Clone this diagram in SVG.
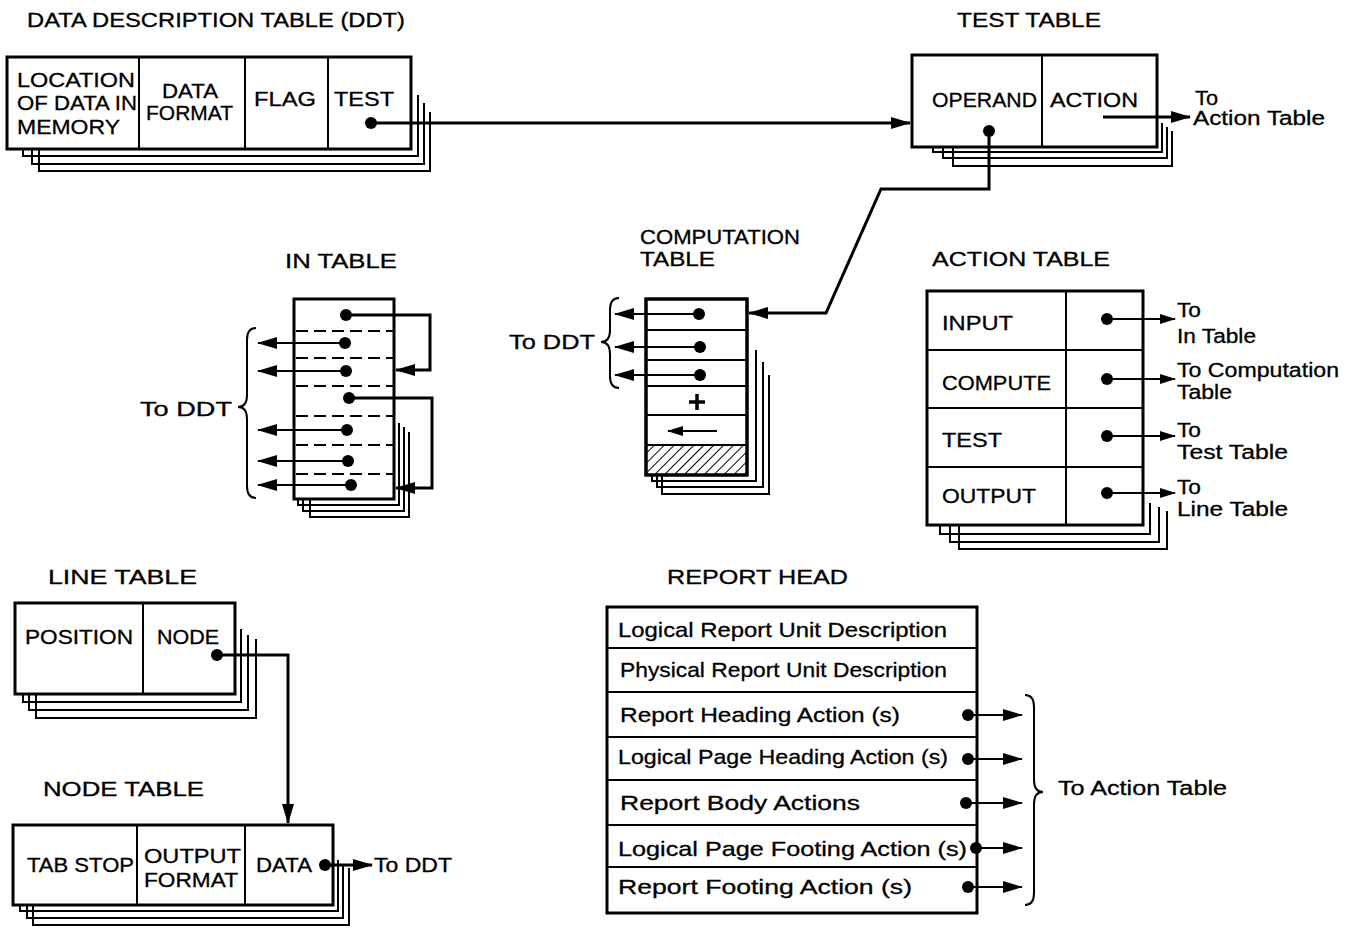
<svg xmlns="http://www.w3.org/2000/svg" width="1355" height="928" viewBox="0 0 1355 928">
<style>
text{font-family:"Liberation Sans",Arial,sans-serif;fill:#000;stroke:#000;stroke-width:0.3px;font-size:21px}
.t{font-size:20px}
.sm{font-size:20px}
.box{fill:#fff;stroke:#000;stroke-width:3}
.dv{stroke:#000;stroke-width:2;fill:none}
.sh{fill:none;stroke:#000;stroke-width:2}
.ln{fill:none;stroke:#000;stroke-width:3}
.ln2{fill:none;stroke:#000;stroke-width:2.2}
.dash{stroke:#000;stroke-width:2;stroke-dasharray:12 6}
.dot{fill:#000}
.br{fill:none;stroke:#000;stroke-width:2}
</style>
<defs>
<marker id="ah" markerUnits="userSpaceOnUse" markerWidth="20" markerHeight="12" refX="19" refY="6" orient="auto"><path d="M0,0 L20,6 L0,12 z" fill="#000"/></marker>
<marker id="ahs" markerUnits="userSpaceOnUse" markerWidth="16" markerHeight="10" refX="15" refY="5" orient="auto"><path d="M0,0 L16,5 L0,10 z" fill="#000"/></marker>
<pattern id="hatch" patternUnits="userSpaceOnUse" width="7" height="7" patternTransform="rotate(45)"><line x1="0" y1="0" x2="0" y2="7" stroke="#000" stroke-width="2"/></pattern>
</defs>

<!-- DDT -->
<g id="ddt">
<text class="t" x="27" y="27" textLength="378" lengthAdjust="spacingAndGlyphs">DATA DESCRIPTION TABLE (DDT)</text>
<polyline class="sh" points="430,112 430,171 39,171 39,149"/>
<polyline class="sh" points="424,103 424,164 32,164 32,149"/>
<polyline class="sh" points="418,95 418,156 23,156 23,149"/>
<rect class="box" x="7" y="57" width="404" height="92"/>
<line class="dv" x1="139" y1="57" x2="139" y2="149"/>
<line class="dv" x1="245" y1="57" x2="245" y2="149"/>
<line class="dv" x1="328" y1="57" x2="328" y2="149"/>
<text x="17" y="87" textLength="118" lengthAdjust="spacingAndGlyphs">LOCATION</text>
<text x="17" y="110" textLength="120" lengthAdjust="spacingAndGlyphs">OF DATA IN</text>
<text x="17" y="134" textLength="103" lengthAdjust="spacingAndGlyphs">MEMORY</text>
<text x="162" y="98" textLength="56" lengthAdjust="spacingAndGlyphs">DATA</text>
<text x="146" y="120" textLength="87" lengthAdjust="spacingAndGlyphs">FORMAT</text>
<text x="254" y="106" textLength="62" lengthAdjust="spacingAndGlyphs">FLAG</text>
<text x="334" y="106" textLength="60" lengthAdjust="spacingAndGlyphs">TEST</text>
<circle class="dot" cx="371" cy="123" r="6"/>
</g>

<!-- TEST TABLE -->
<g id="test-table">
<text class="t" x="957" y="27" textLength="144" lengthAdjust="spacingAndGlyphs">TEST TABLE</text>
<polyline class="sh" points="1172,131 1172,166 953,166 953,147"/>
<polyline class="sh" points="1167,127 1167,158 943,158 943,147"/>
<polyline class="sh" points="1162,123 1162,152 933,152 933,147"/>
<rect class="box" x="912" y="55" width="245" height="92"/>
<line class="dv" x1="1042" y1="55" x2="1042" y2="147"/>
<text class="sm" x="932" y="107" textLength="105" lengthAdjust="spacingAndGlyphs">OPERAND</text>
<text class="sm" x="1050" y="107" textLength="88" lengthAdjust="spacingAndGlyphs">ACTION</text>
<circle class="dot" cx="989" cy="131" r="6"/>
<text class="sm" x="1195" y="105" textLength="23" lengthAdjust="spacingAndGlyphs">To</text>
<text class="sm" x="1193" y="125" textLength="132" lengthAdjust="spacingAndGlyphs">Action Table</text>
</g>

<!-- IN TABLE -->
<g id="in-table">
<text class="t" x="285" y="268" textLength="112" lengthAdjust="spacingAndGlyphs">IN TABLE</text>
<polyline class="sh" points="409,432 409,517 310,517 310,499"/>
<polyline class="sh" points="404,427 404,511 303,511 303,499"/>
<polyline class="sh" points="399,423 399,505 298,505 298,499"/>
<rect class="box" x="294" y="299" width="100" height="200"/>
<line class="dash" x1="296" y1="331" x2="393" y2="331"/>
<line class="dash" x1="296" y1="358" x2="393" y2="358"/>
<line class="dash" x1="296" y1="386" x2="393" y2="386"/>
<line class="dash" x1="296" y1="416" x2="393" y2="416"/>
<line class="dash" x1="296" y1="445" x2="393" y2="445"/>
<line class="dash" x1="296" y1="474" x2="393" y2="474"/>
<circle class="dot" cx="346" cy="315" r="6"/>
<circle class="dot" cx="345" cy="343" r="6"/>
<circle class="dot" cx="346" cy="371" r="6"/>
<circle class="dot" cx="349" cy="398" r="6"/>
<circle class="dot" cx="347" cy="430" r="6"/>
<circle class="dot" cx="348" cy="461" r="6"/>
<circle class="dot" cx="351" cy="485" r="6"/>
<path class="br" d="M256,328 Q247,328 247,340 L247,395 Q247,407 238,407 Q247,407 247,419 L247,486 Q247,498 256,498"/>
<text class="sm" x="140" y="416" textLength="92" lengthAdjust="spacingAndGlyphs">To DDT</text>
</g>

<!-- COMPUTATION TABLE -->
<g id="computation-table">
<text class="t" x="640" y="244" textLength="160" lengthAdjust="spacingAndGlyphs">COMPUTATION</text>
<text class="t" x="640" y="266" textLength="75" lengthAdjust="spacingAndGlyphs">TABLE</text>
<polyline class="sh" points="769,375 769,494 662,494 662,475"/>
<polyline class="sh" points="763,362 763,487 657,487 657,475"/>
<polyline class="sh" points="756,350 756,481 652,481 652,475"/>
<rect class="box" x="646" y="299" width="101" height="176"/>
<rect x="647" y="445" width="99" height="30" fill="url(#hatch)"/>
<rect x="646" y="299" width="101" height="176" fill="none" stroke="#000" stroke-width="3"/>
<line class="dv" x1="646" y1="330" x2="747" y2="330"/>
<line class="dv" x1="646" y1="360" x2="747" y2="360"/>
<line class="dv" x1="646" y1="386" x2="747" y2="386"/>
<line class="dv" x1="646" y1="415" x2="747" y2="415"/>
<line class="dv" x1="646" y1="445" x2="747" y2="445"/>
<circle class="dot" cx="699" cy="314" r="6"/>
<circle class="dot" cx="700" cy="347" r="6"/>
<circle class="dot" cx="700" cy="375" r="6"/>
<path d="M689,402 H705 M697,394 V410" stroke="#000" stroke-width="3.5" fill="none"/>
<line class="ln2" x1="717" y1="431" x2="668" y2="431" marker-end="url(#ahs)"/>
<path class="br" d="M619,298 Q610,298 610,310 L610,330 Q610,342 601,342 Q610,342 610,354 L610,376 Q610,388 619,388"/>
<text class="sm" x="509" y="349" textLength="86" lengthAdjust="spacingAndGlyphs">To DDT</text>
</g>

<!-- ACTION TABLE -->
<g id="action-table">
<text class="t" x="932" y="266" textLength="178" lengthAdjust="spacingAndGlyphs">ACTION TABLE</text>
<polyline class="sh" points="1167,511 1167,549 959,549 959,525"/>
<polyline class="sh" points="1159,507 1159,542 950,542 950,525"/>
<polyline class="sh" points="1150,503 1150,534 940,534 940,525"/>
<rect class="box" x="927" y="291" width="216" height="234"/>
<line class="dv" x1="1066" y1="291" x2="1066" y2="525"/>
<line class="dv" x1="927" y1="350" x2="1143" y2="350"/>
<line class="dv" x1="927" y1="408" x2="1143" y2="408"/>
<line class="dv" x1="927" y1="467" x2="1143" y2="467"/>
<text class="sm" x="942" y="330" textLength="71" lengthAdjust="spacingAndGlyphs">INPUT</text>
<text class="sm" x="942" y="390" textLength="109" lengthAdjust="spacingAndGlyphs">COMPUTE</text>
<text class="sm" x="942" y="447" textLength="60" lengthAdjust="spacingAndGlyphs">TEST</text>
<text class="sm" x="942" y="503" textLength="94" lengthAdjust="spacingAndGlyphs">OUTPUT</text>
<circle class="dot" cx="1107" cy="319" r="6"/>
<circle class="dot" cx="1107" cy="379" r="6"/>
<circle class="dot" cx="1107" cy="436" r="6"/>
<circle class="dot" cx="1107" cy="493" r="6"/>
<text class="sm" x="1177" y="317" textLength="24" lengthAdjust="spacingAndGlyphs">To</text>
<text class="sm" x="1177" y="343" textLength="79" lengthAdjust="spacingAndGlyphs">In Table</text>
<text class="sm" x="1177" y="377" textLength="162" lengthAdjust="spacingAndGlyphs">To Computation</text>
<text class="sm" x="1177" y="399" textLength="55" lengthAdjust="spacingAndGlyphs">Table</text>
<text class="sm" x="1177" y="437" textLength="24" lengthAdjust="spacingAndGlyphs">To</text>
<text class="sm" x="1177" y="459" textLength="111" lengthAdjust="spacingAndGlyphs">Test  Table</text>
<text class="sm" x="1177" y="494" textLength="24" lengthAdjust="spacingAndGlyphs">To</text>
<text class="sm" x="1177" y="516" textLength="111" lengthAdjust="spacingAndGlyphs">Line Table</text>
</g>

<!-- LINE TABLE -->
<g id="line-table">
<text class="t" x="48" y="584" textLength="149" lengthAdjust="spacingAndGlyphs">LINE TABLE</text>
<polyline class="sh" points="256,639 256,718 36,718 36,694"/>
<polyline class="sh" points="248,635 248,710 29,710 29,694"/>
<polyline class="sh" points="241,629 241,702 23,702 23,694"/>
<rect class="box" x="15" y="603" width="220" height="91"/>
<line class="dv" x1="143" y1="603" x2="143" y2="694"/>
<text class="sm" x="25" y="644" textLength="108" lengthAdjust="spacingAndGlyphs">POSITION</text>
<text class="sm" x="157" y="644" textLength="62" lengthAdjust="spacingAndGlyphs">NODE</text>
<circle class="dot" cx="217" cy="655" r="6"/>
</g>

<!-- NODE TABLE -->
<g id="node-table">
<text class="t" x="43" y="796" textLength="161" lengthAdjust="spacingAndGlyphs">NODE TABLE</text>
<polyline class="sh" points="349,868 349,925 33,925 33,905"/>
<polyline class="sh" points="343,864 343,918 27,918 27,905"/>
<polyline class="sh" points="338,860 338,911 20,911 20,905"/>
<rect class="box" x="13" y="825" width="320" height="80"/>
<line class="dv" x1="137" y1="825" x2="137" y2="905"/>
<line class="dv" x1="245" y1="825" x2="245" y2="905"/>
<text class="sm" x="27" y="872" textLength="107" lengthAdjust="spacingAndGlyphs">TAB STOP</text>
<text class="sm" x="144" y="863" textLength="97" lengthAdjust="spacingAndGlyphs">OUTPUT</text>
<text class="sm" x="144" y="887" textLength="94" lengthAdjust="spacingAndGlyphs">FORMAT</text>
<text class="sm" x="256" y="872" textLength="56" lengthAdjust="spacingAndGlyphs">DATA</text>
<circle class="dot" cx="325" cy="865" r="6"/>
<text class="sm" x="374" y="872" textLength="78" lengthAdjust="spacingAndGlyphs">To DDT</text>
</g>

<!-- REPORT HEAD -->
<g id="report-head">
<text class="t" x="667" y="584" textLength="181" lengthAdjust="spacingAndGlyphs">REPORT HEAD</text>
<rect class="box" x="607" y="607" width="370" height="306"/>
<line class="dv" x1="607" y1="648" x2="977" y2="648"/>
<line class="dv" x1="607" y1="692" x2="977" y2="692"/>
<line class="dv" x1="607" y1="737" x2="977" y2="737"/>
<line class="dv" x1="607" y1="780" x2="977" y2="780"/>
<line class="dv" x1="607" y1="825" x2="977" y2="825"/>
<line class="dv" x1="607" y1="867" x2="977" y2="867"/>
<text x="618" y="637" textLength="329" lengthAdjust="spacingAndGlyphs">Logical Report Unit Description</text>
<text x="620" y="677" textLength="327" lengthAdjust="spacingAndGlyphs">Physical Report Unit Description</text>
<text x="620" y="722" textLength="280" lengthAdjust="spacingAndGlyphs">Report Heading Action (s)</text>
<text x="618" y="764" textLength="330" lengthAdjust="spacingAndGlyphs">Logical Page Heading Action (s)</text>
<text x="620" y="810" textLength="240" lengthAdjust="spacingAndGlyphs">Report Body Actions</text>
<text x="618" y="856" textLength="349" lengthAdjust="spacingAndGlyphs">Logical Page Footing Action (s)</text>
<text x="618" y="894" textLength="294" lengthAdjust="spacingAndGlyphs">Report Footing Action (s)</text>
<circle class="dot" cx="968" cy="715" r="6"/>
<circle class="dot" cx="968" cy="759" r="6"/>
<circle class="dot" cx="966" cy="803" r="6"/>
<circle class="dot" cx="976" cy="848" r="6"/>
<circle class="dot" cx="968" cy="887" r="6"/>
<path class="br" d="M1025,695 Q1034,695 1034,707 L1034,780 Q1034,792 1043,792 Q1034,792 1034,804 L1034,893 Q1034,905 1025,905"/>
<text class="sm" x="1058" y="795" textLength="169" lengthAdjust="spacingAndGlyphs">To Action Table</text>
</g>

<!-- CONNECTORS -->
<g id="connectors">
<line class="ln" x1="371" y1="123" x2="910" y2="123" marker-end="url(#ah)"/>
<line class="ln" x1="1103" y1="117" x2="1190" y2="117" marker-end="url(#ah)"/>
<path class="ln" d="M989,131 V189 H881 L826,313 H749" marker-end="url(#ah)"/>
<path class="ln" d="M346,315 H430 V370 H396" marker-end="url(#ah)"/>
<path class="ln" d="M349,398 H432 V488 H396" marker-end="url(#ah)"/>
<line class="ln2" x1="345" y1="343" x2="258" y2="343" marker-end="url(#ah)"/>
<line class="ln2" x1="346" y1="371" x2="258" y2="371" marker-end="url(#ah)"/>
<line class="ln2" x1="347" y1="430" x2="258" y2="430" marker-end="url(#ah)"/>
<line class="ln2" x1="348" y1="461" x2="258" y2="461" marker-end="url(#ah)"/>
<line class="ln2" x1="351" y1="485" x2="258" y2="485" marker-end="url(#ah)"/>
<line class="ln2" x1="699" y1="314" x2="615" y2="314" marker-end="url(#ah)"/>
<line class="ln2" x1="700" y1="347" x2="615" y2="347" marker-end="url(#ah)"/>
<line class="ln2" x1="700" y1="375" x2="615" y2="375" marker-end="url(#ah)"/>
<line class="ln2" x1="1107" y1="319" x2="1175" y2="319" marker-end="url(#ahs)"/>
<line class="ln2" x1="1107" y1="379" x2="1175" y2="379" marker-end="url(#ahs)"/>
<line class="ln2" x1="1107" y1="436" x2="1175" y2="436" marker-end="url(#ahs)"/>
<line class="ln2" x1="1107" y1="493" x2="1175" y2="493" marker-end="url(#ahs)"/>
<path class="ln" d="M217,655 H288 V823" marker-end="url(#ah)"/>
<line class="ln" x1="325" y1="865" x2="372" y2="865" marker-end="url(#ah)"/>
<line class="ln2" x1="968" y1="715" x2="1022" y2="715" marker-end="url(#ah)"/>
<line class="ln2" x1="968" y1="759" x2="1022" y2="759" marker-end="url(#ah)"/>
<line class="ln2" x1="966" y1="803" x2="1022" y2="803" marker-end="url(#ah)"/>
<line class="ln2" x1="976" y1="848" x2="1022" y2="848" marker-end="url(#ah)"/>
<line class="ln2" x1="968" y1="887" x2="1022" y2="887" marker-end="url(#ah)"/>
</g>
</svg>
